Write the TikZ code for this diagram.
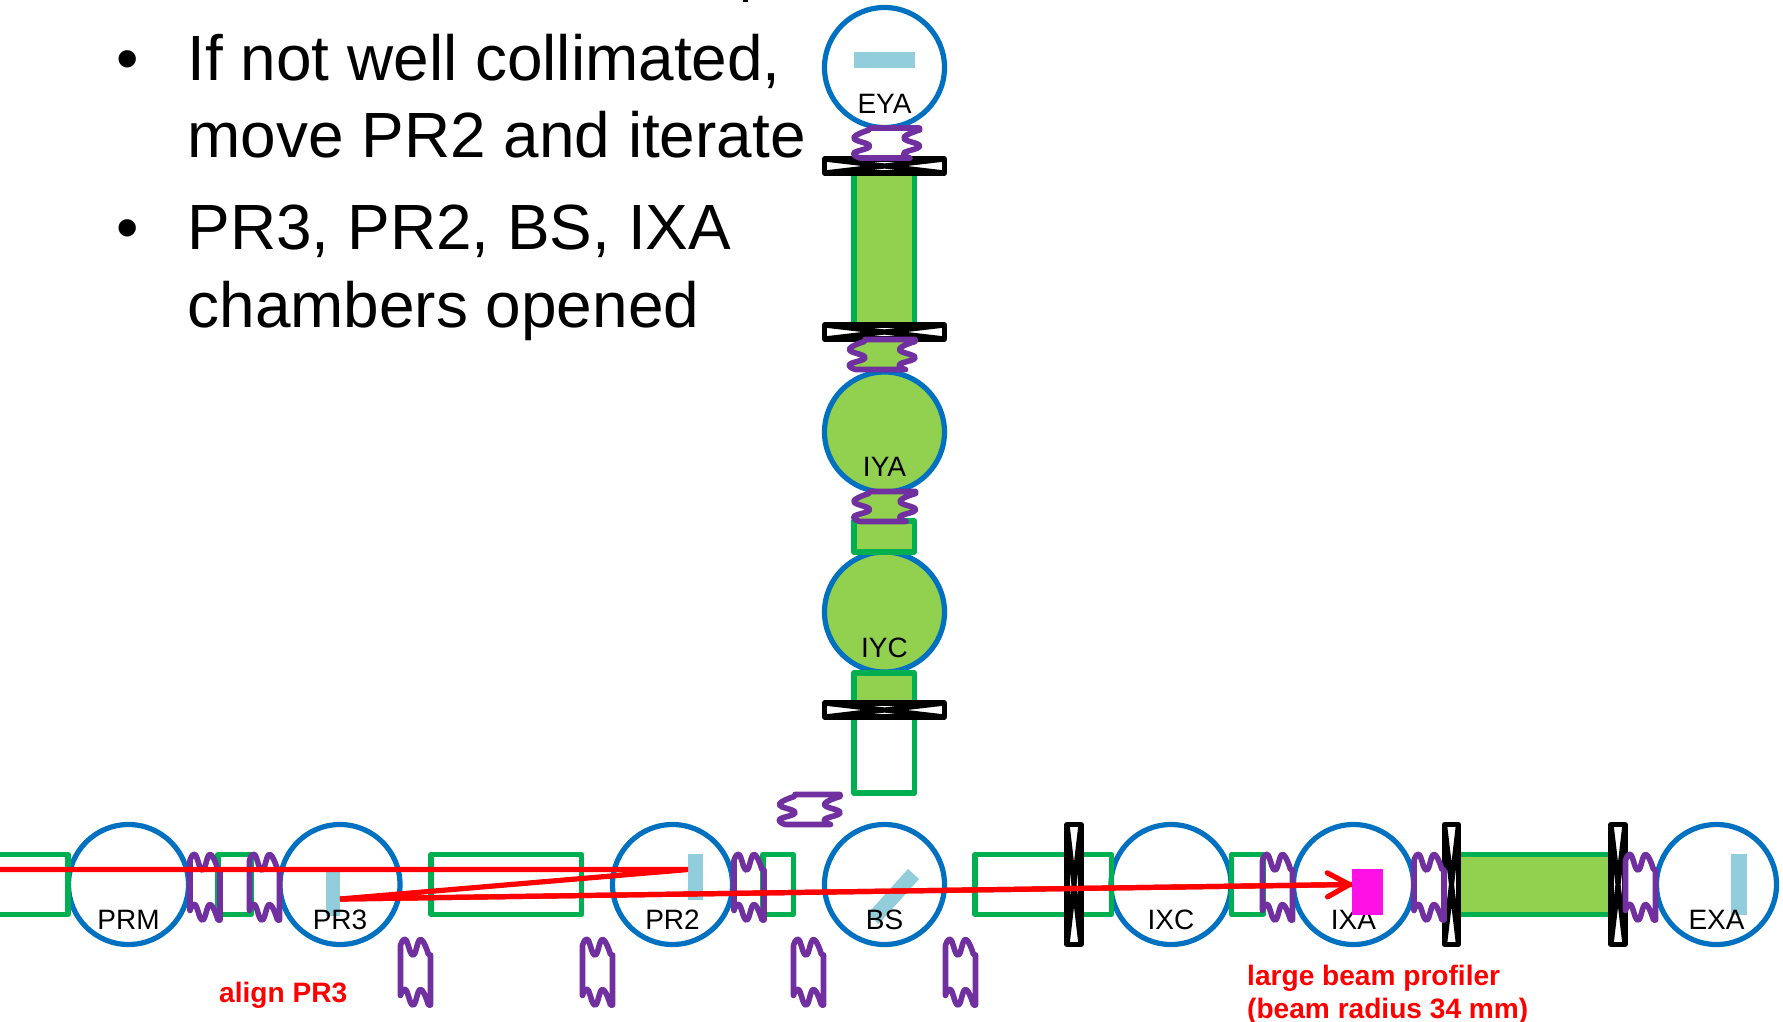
\documentclass[tikz,border=0pt]{standalone}
\usepackage{fontspec}
\setmainfont{Liberation Sans}
\usetikzlibrary{arrows.meta}
\definecolor{chamber}{HTML}{0070C0}
\definecolor{tube}{HTML}{00B050}
\definecolor{leaf}{HTML}{92D050}
\definecolor{bel}{HTML}{7030A0}
\definecolor{mirror}{HTML}{92CDDC}
\definecolor{profiler}{HTML}{FF10E4}
\tikzset{
  chamberc/.style={circle,draw=chamber,line width=5.2pt,minimum size=120pt,inner sep=0pt,fill=#1},
  chamberc/.default=white,
  tubeb/.style={draw=tube,line width=5.2pt,line join=round},
  lbl/.style={anchor=base,font=\fontsize{28}{28}\selectfont,inner sep=0pt,text=black},
  big/.style={anchor=base west,font=\fontsize{63.9}{64}\selectfont,inner sep=0pt,text=black},
  note/.style={anchor=base west,font=\fontsize{28.1}{28}\selectfont\bfseries,inner sep=0pt,text=red},
  bellowb/.style={draw=bel,line width=5.6pt,line join=round,line cap=round},
  gateb/.style={draw=black,line width=5.2pt,line join=round,fill=white},
  beam/.style={draw=red,line width=5.2pt},
  pics/bellowh/.style={code={
    \draw[bellowb] plot[smooth,tension=.8] coordinates {(0,6)(5,0)(12.5,15.5)(20,0)(28,15)}
      -- (30,15.5) -- (30,65.5)
      -- plot[smooth,tension=.8] coordinates {(28,65.5)(20,50)(12.5,65.5)(5,50)(0,56)} -- cycle;
  }},
  pics/bellowv/.style 2 args={code={
    \draw[bellowb,fill=#2] plot[smooth,tension=.8] coordinates {(6,30)(0,25)(15.5,18)(0,10)(15,2)}
      -- (15.5,0) -- (#1+15.5,0)
      -- plot[smooth,tension=.8] coordinates {(#1+15.5,2)(#1,10)(#1+15.5,18)(#1,25)(#1+6,30)} -- cycle;
  }},
  pics/gatev/.style={code={
    \draw[gateb] (-7,-60) rectangle (7,60);
    \draw[gateb] (-7,-60) -- (7,60) (7,-60) -- (-7,60);
  }},
  pics/gateh/.style={code={
    \draw[gateb] (-60,-7) rectangle (60,7);
    \draw[gateb] (-60,-7) -- (60,7) (-60,7) -- (60,-7);
  }}
}
\begin{document}
\begin{tikzpicture}[x=1pt,y=-1pt]
\clip (0,0) rectangle (1783,1021);
\useasboundingbox (0,0) rectangle (1783,1021);
% chambers
\node[chamberc] (PRM) at (128.5,884.5) {};
\node[chamberc] (PR3) at (340,884.5) {};
\node[chamberc] (PR2) at (672.5,884.5) {};
\node[chamberc] (BS)  at (884.5,884.5) {};
\node[chamberc] (IXC) at (1171,884.5) {};
\node[chamberc] (IXA) at (1353.5,884.5) {};
\node[chamberc] (EXA) at (1716.5,884.5) {};
\node[chamberc] (EYA) at (884.5,67.5) {};
\node[chamberc=leaf] (IYA) at (884.5,432) {};
\node[chamberc=leaf] (IYC) at (884.5,612) {};
% tubes
\draw[tubeb] (-10,854.5) rectangle (68,914.5);
\draw[tubeb] (218,854.5) rectangle (251,914.5);
\draw[tubeb] (431,854.5) rectangle (581.5,914.5);
\draw[tubeb] (763,854.5) rectangle (793.5,914.5);
\draw[tubeb] (975,854.5) rectangle (1111.5,914.5);
\draw[tubeb] (1231.5,854.5) rectangle (1263,914.5);
\draw[tubeb,fill=leaf] (1451,854.5) rectangle (1618,914.5);
\draw[tubeb,fill=leaf] (854,166) rectangle (914.5,332);
\draw[tubeb,fill=leaf] (854,521) rectangle (914.5,552);
\fill[leaf] (854,673) rectangle (914.5,710);
\draw[tubeb] (854,673) rectangle (914.5,793);
% gate valves
\pic at (1074,884.5) {gatev};
\pic at (1451.5,884.5) {gatev};
\pic at (1618,884.5) {gatev};
\pic at (884.5,166) {gateh};
\pic at (884.5,332) {gateh};
\pic at (884.5,710) {gateh};
% bellows
\pic at (190,854.5) {bellowh};
\pic at (249.5,854.5) {bellowh};
\pic at (400.5,939.5) {bellowh};
\pic at (582.5,939.5) {bellowh};
\pic at (734,854.5) {bellowh};
\pic at (793.5,939.5) {bellowh};
\pic at (945.5,939.5) {bellowh};
\pic at (1262.5,854.5) {bellowh};
\pic at (1414,854.5) {bellowh};
\pic at (1625.5,854.5) {bellowh};
\pic at (854,128) {bellowv={50}{none}};
\pic at (849.5,339.5) {bellowv={50}{leaf}};
\pic at (854,491.5) {bellowv={46}{leaf}};
\pic at (779.5,794.5) {bellowv={45}{none}};
% mirrors
\fill[mirror] (325.5,871) rectangle (340,916);
\fill[mirror] (688,854) rectangle (703,900);
\fill[mirror] (1731,854) rectangle (1747,915);
\fill[mirror] (854,52) rectangle (915,68);
\draw[mirror,line width=15pt] (913.5,874) -- (873,919);
% chamber labels
\node[lbl] (lPRM) at (128.5,929) {PRM};
\node[lbl] (lPR3) at (340,929) {PR3};
\node[lbl] (lPR2) at (672.5,929) {PR2};
\node[lbl] (lBS)  at (884.5,929) {BS};
\node[lbl] (lIXC) at (1171,929) {IXC};
\node[lbl] (lIXA) at (1353.5,929) {IXA};
\node[lbl] (lEXA) at (1716.5,929) {EXA};
\node[lbl] (lEYA) at (884.5,113) {EYA};
\node[lbl] (lIYA) at (884.5,476) {IYA};
\node[lbl] (lIYC) at (884.5,657) {IYC};
% beam
\coordinate (in) at (-5,869.5);
\coordinate (m2) at (688,869.5);
\coordinate (m3) at (340,899);
\coordinate (tip) at (1352,884.5);
\draw[beam,line join=bevel] (in) -- (m2) -- (m3) -- (tip);
\draw[beam,-{Straight Barb[round,length=22pt,width=24pt]}] (m3) -- (tip);
% profiler
\fill[profiler] (1352,869) rectangle (1383,915);
% text
\fill[black] (743,0) rectangle (748,2);
\node[big] (b1) at (116,80) {•};
\node[big] (t1) at (187.5,80) {If not well collimated,};
\node[big] (t2) at (187.5,157) {move PR2 and iterate};
\node[big] (b2) at (116,249) {•};
\node[big] (t3) at (187.5,249) {PR3, PR2, BS, IXA};
\node[big] (t4) at (187.5,327) {chambers opened};
\node[note] (n1) at (219,1002) {align PR3};
\node[note] (n2) at (1247,985) {large beam profiler};
\node[note] (n3) at (1247,1018) {(beam radius 34 mm)};
\end{tikzpicture}
\end{document}
